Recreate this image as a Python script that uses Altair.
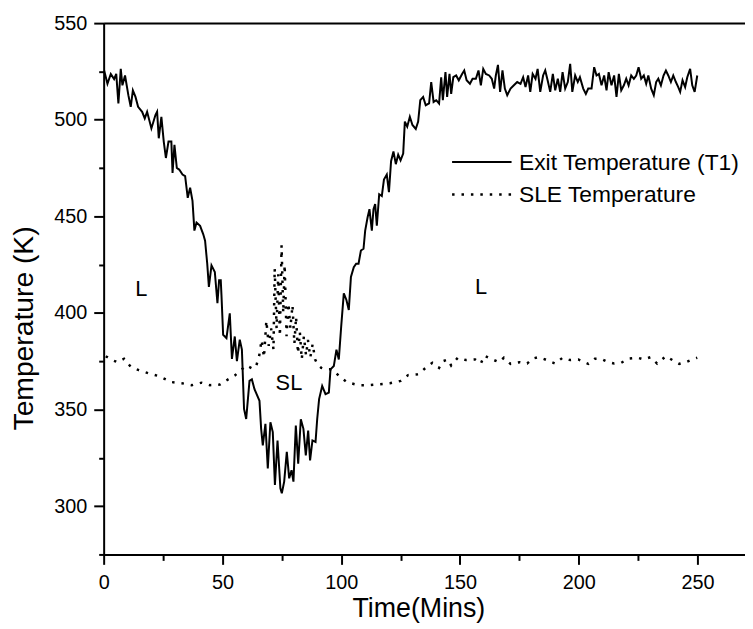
import altair as alt
import pandas as pd

# ---------------- data ----------------
exit_time = [0.2, 1.6, 3.0, 4.4, 5.3, 6.2, 7.2, 7.9, 9.0, 10.4, 11.4, 12.3, 13.4, 14.5, 16.2, 17.3, 18.3,
             20.1, 21.8, 22.5, 23.2, 24.3, 25.3, 26.2, 27.3, 28.5, 29.0, 29.8, 30.8, 31.8, 33.2, 34.3,
             35.4, 36.4, 37.4, 38.2, 39.1, 40.6, 41.9, 42.7, 43.6, 44.3, 45.4, 46.8, 47.9, 48.6, 49.3,
             49.6, 50.3, 51.7, 53.1, 54.0, 55.2, 56.1, 57.3, 58.2, 59.1, 60.0, 61.4, 62.4, 63.5, 65.6,
             66.3, 67.0, 68.1, 69.1, 70.2, 71.2, 72.1, 73.2, 74.4, 75.0, 76.0, 77.1, 78.1, 79.1, 79.9,
             80.9, 81.9, 83.0, 84.1, 85.1, 86.1, 86.9, 87.9, 89.2, 89.9, 90.7, 92.0, 93.4, 94.8, 95.5,
             96.9, 98.0, 99.0, 100.0, 101.1, 102.2, 103.2, 104.1, 105.3, 106.3, 107.3, 108.3, 109.4,
             110.1, 111.1, 111.9, 112.9, 113.6, 114.3, 115.0, 116.0, 117.1, 118.0, 119.2, 120.1, 121.0,
             122.0, 123.0, 124.0, 125.0, 126.1, 126.8, 127.8, 128.9, 130.0, 131.4, 132.4, 133.3, 134.5,
             135.6, 137.0, 137.9, 138.9, 140.0, 141.2, 142.1, 142.8, 143.9, 144.6, 145.6, 146.3, 147.2,
             148.4, 149.5, 150.9, 151.8, 152.8, 154.2, 155.3, 156.7, 157.8, 158.8, 159.8, 160.9, 162.3,
             163.4, 164.4, 165.1, 166.0, 166.9, 167.9, 168.9, 169.9, 171.3, 172.7, 174.1, 175.5, 176.6,
             177.6, 178.7, 179.6, 180.6, 181.8, 182.7, 183.8, 185.0, 185.9, 186.9, 188.0, 189.1, 190.1,
             191.2, 192.2, 193.2, 194.3, 195.4, 196.4, 197.3, 198.5, 199.6, 200.5, 201.9, 203.0, 204.0,
             205.4, 206.5, 207.5, 208.5, 209.6, 210.7, 211.7, 212.6, 213.8, 214.9, 215.9, 216.9, 217.9,
             219.0, 220.0, 221.0, 222.1, 223.2, 224.2, 225.2, 226.3, 227.4, 228.4, 229.3, 230.5, 231.6,
             232.6, 233.5, 234.6, 235.7, 236.7, 237.7, 238.8, 239.8, 240.9, 241.9, 242.7, 243.7, 244.8,
             245.7, 246.9, 247.8, 248.8, 249.9]
exit_temp = [525.5, 518.6, 523.7, 521.0, 523.7, 508.4, 526.3, 517.8, 522.9, 512.7, 506.7, 515.2, 511.8,
             506.7, 504.1, 500.7, 504.1, 495.5, 502.4, 504.1, 490.4, 501.5, 488.7, 480.2, 488.7, 488.7,
             472.5, 487.0, 475.0, 474.2, 471.6, 470.8, 459.6, 464.8, 458.0, 442.6, 446.8, 445.1, 440.8,
             437.4, 425.5, 413.5, 424.6, 421.2, 405.0, 416.9, 416.9, 409.2, 388.7, 387.0, 399.8, 376.2,
             387.8, 375.0, 386.2, 381.0, 350.3, 345.1, 364.8, 365.6, 360.5, 354.5, 340.0, 331.4, 342.6,
             319.5, 343.4, 338.3, 311.0, 334.0, 309.2, 306.7, 312.7, 328.1, 314.4, 318.6, 312.7, 341.7,
             322.0, 345.0, 340.0, 326.3, 339.1, 323.7, 334.0, 333.2, 345.1, 355.4, 362.2, 358.0, 358.8,
             370.8, 372.5, 381.0, 375.9, 393.0, 410.1, 406.7, 401.5, 418.6, 423.7, 425.5, 425.5, 432.3,
             433.2, 442.6, 449.4, 453.7, 442.6, 453.7, 456.3, 445.1, 461.4, 460.5, 469.0, 471.6, 462.5,
             478.5, 483.6, 477.0, 481.9, 479.0, 482.5, 499.0, 496.4, 501.5, 497.3, 495.2, 499.0, 510.1,
             511.8, 507.5, 508.4, 519.5, 509.2, 510.1, 508.4, 522.0, 510.1, 524.6, 511.8, 523.7, 513.4,
             522.0, 522.9, 520.4, 523.7, 525.5, 520.4, 518.6, 521.2, 521.2, 525.5, 517.8, 526.3, 523.7,
             522.9, 521.2, 516.1, 522.9, 528.4, 514.4, 525.5, 516.1, 512.7, 516.1, 517.8, 519.5, 518.6,
             522.0, 516.9, 522.9, 514.4, 523.7, 521.2, 526.3, 514.4, 522.9, 525.5, 520.4, 514.4, 523.7,
             515.2, 521.2, 514.4, 524.6, 516.1, 519.5, 528.9, 514.4, 522.9, 519.5, 522.0, 516.1, 513.4,
             516.1, 516.1, 527.2, 522.9, 523.7, 517.8, 522.9, 515.2, 524.6, 517.8, 522.9, 511.8, 523.7,
             515.2, 517.8, 521.2, 517.8, 522.9, 521.2, 522.9, 527.2, 521.2, 522.9, 518.6, 522.9, 516.1,
             512.7, 519.5, 521.2, 517.8, 522.9, 525.5, 522.9, 519.5, 522.9, 519.5, 516.9, 514.4, 520.4,
             516.9, 522.0, 526.3, 517.8, 514.4, 522.9]

sle_time = [0.9, 3.0, 5.8, 8.6, 11.4, 14.8, 19.0, 23.2, 28.7, 32.9, 37.1, 41.2, 44.7, 48.9, 52.4, 55.2,
            60.0, 62.8, 64.2, 65.5, 66.5, 67.5, 68.5, 69.5, 70.5, 71.5, 72.0, 72.8, 73.5, 74.2, 74.9,
            75.6, 76.2, 77.0, 77.8, 78.6, 79.5, 80.3, 81.0, 81.8, 82.6, 83.4, 84.3, 85.2, 86.0, 87.0,
            88.0, 89.0, 90.2, 91.6, 93.4, 96.2, 99.7, 102.5, 107.3, 111.5, 116.2, 120.5, 125.0, 128.2,
            132.4, 135.1, 138.4, 141.2, 142.8, 144.9, 146.3, 149.1, 152.5, 156.4, 158.8, 160.2, 163.7,
            166.4, 168.5, 171.3, 175.1, 178.3, 180.4, 182.9, 185.9, 190.1, 193.2, 196.4, 199.8, 204.0,
            206.8, 209.3, 212.4, 214.9, 217.9, 221.0, 224.9, 227.4, 230.2, 233.0, 236.7, 240.2, 242.3,
            245.1, 247.8, 249.9]
sle_temp = [377.6, 375.9, 374.5, 376.3, 372.1, 370.4, 368.7, 367.3, 364.2, 363.6, 362.6, 363.9, 362.6,
            362.9, 365.6, 367.6, 372.8, 371.1, 372.4, 378.0, 386.0, 377.0, 396.0, 383.0, 392.0, 381.0,
            423.0, 392.0, 420.0, 388.0, 435.0, 400.0, 425.0, 388.0, 405.0, 392.0, 404.0, 384.0, 398.0,
            379.0, 390.0, 376.0, 388.0, 378.0, 386.0, 377.0, 384.0, 376.0, 373.0, 371.6, 370.8, 370.8,
            366.7, 364.1, 362.6, 362.6, 363.1, 363.6, 364.8, 367.8, 368.2, 371.1, 374.2, 371.6, 375.0,
            375.9, 372.8, 376.8, 375.6, 375.9, 373.8, 377.9, 375.9, 374.5, 376.8, 373.6, 374.5, 373.8,
            376.3, 377.1, 375.9, 373.8, 376.8, 375.6, 375.9, 373.6, 376.3, 376.3, 374.5, 373.8, 374.2,
            376.3, 376.8, 375.9, 377.1, 373.8, 377.6, 375.0, 373.6, 374.5, 375.9, 376.8]

series_names = ["Exit Temperature (T1)", "SLE Temperature"]
annot_text = ["L", "L", "SL"]
annot_time = [15.9, 158.9, 78.0]
annot_temp = [412.5, 413.5, 363.7]

x_ticks = list(range(0, 251, 25))
y_ticks = list(range(275, 551, 25))

# ---------------- styling ----------------
FONT = "Liberation Sans"
W, H = 647, 536
DASH = [2.5, 7]

exit_df = pd.DataFrame({"time": exit_time, "temp": exit_temp, "series": series_names[0]})
sle_df = pd.DataFrame({"time": sle_time, "temp": sle_temp, "series": series_names[1]})
annot_df = pd.DataFrame({"time": annot_time, "temp": annot_temp, "text": annot_text})

xscale = alt.Scale(domain=[0, 270], nice=False, zero=False)
yscale = alt.Scale(domain=[275, 550], nice=False, zero=False)

common_axis = dict(
    domainColor="black", domainWidth=2, tickColor="black", tickWidth=2,
    labelFont=FONT, labelFontSize=20, labelColor="black", labelFlush=False,
    titleFont=FONT, titleFontWeight="normal", titleColor="black",
    grid=False, labelOverlap=False,
)

x_axis = alt.Axis(
    values=x_ticks,
    labelExpr="datum.value % 50 === 0 ? datum.label : ''",
    tickSize={"condition": {"test": "datum.value % 50 === 0", "value": 10}, "value": 6},
    labelPadding=8, titlePadding=4, titleX=317.5, titleFontSize=27, title="Time(Mins)", **common_axis,
)
y_axis = alt.Axis(
    values=y_ticks,
    labelExpr="datum.value % 50 === 0 ? datum.label : ''",
    tickSize={"condition": {"test": "datum.value % 50 === 0", "value": 10}, "value": 5},
    labelPadding=7, titlePadding=15, titleY=307.5, titleFontSize=28.5, title="Temperature (K)",
    **common_axis,
)
top_axis = alt.Axis(orient="top", labels=False, ticks=False, domain=True, title=None,
                    domainColor="black", domainWidth=2, grid=False)
hidden_x = alt.Axis(orient="top", labels=False, ticks=False, domain=False, title=None, grid=False)

Y = alt.Y("temp:Q", scale=yscale, axis=y_axis)

exit_line = alt.Chart(exit_df).mark_line(color="black", strokeWidth=2, clip=True).encode(
    x=alt.X("time:Q", scale=xscale, axis=x_axis), y=Y
)
sle_line = alt.Chart(sle_df).mark_line(color="black", strokeWidth=2.5, strokeDash=DASH, clip=True).encode(
    x=alt.X("time:Q", scale=xscale, axis=top_axis), y=Y
)
annots = alt.Chart(annot_df).mark_text(font=FONT, fontSize=22, color="black").encode(
    x=alt.X("time:Q", scale=xscale, axis=hidden_x), y=Y, text="text:N"
)

# legend (layout only)
LX0, LX1, LTX = 351.5, 411.5, 419.0
ROW1, ROW2 = 140.2, 172.8
leg_df = pd.DataFrame({"series": series_names})
leg1 = alt.Chart(leg_df.iloc[[0]]).mark_rule(color="black", strokeWidth=2).encode(
    x=alt.value(LX0), x2=alt.value(LX1), y=alt.value(ROW1))
leg2 = alt.Chart(leg_df.iloc[[1]]).mark_rule(color="black", strokeWidth=2.5, strokeDash=DASH).encode(
    x=alt.value(LX0), x2=alt.value(LX1), y=alt.value(ROW2))
legt1 = alt.Chart(leg_df.iloc[[0]]).mark_text(font=FONT, fontSize=23, color="black", align="left",
                                              baseline="middle").encode(
    x=alt.value(LTX), y=alt.value(ROW1 + 1), text="series:N")
legt2 = alt.Chart(leg_df.iloc[[1]]).mark_text(font=FONT, fontSize=23, color="black", align="left",
                                              baseline="middle").encode(
    x=alt.value(LTX), y=alt.value(ROW2 + 1), text="series:N")

chart = alt.layer(exit_line, sle_line, annots, leg1, leg2, legt1, legt2).resolve_axis(
    x="independent"
).properties(
    width=W, height=H,
    autosize=alt.AutoSizeParams(type="none"),
    padding={"left": 96.5, "top": 12.5, "right": 0, "bottom": 75},
).configure_view(stroke=None).configure(background="white")

chart.save("out.html", embed_options={"renderer": "svg", "actions": False})
